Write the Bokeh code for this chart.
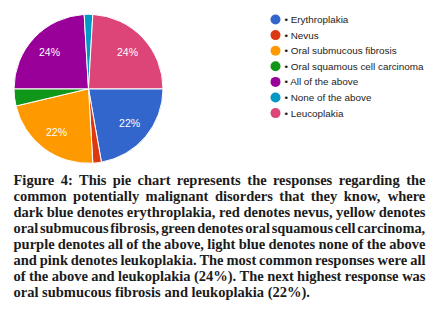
import math
from bokeh.plotting import figure
from bokeh.models import Range1d, ColumnDataSource
from bokeh.embed import file_html
from bokeh.resources import INLINE
from bokeh.core.properties import value

# ---------------- data ----------------
categories = ["Erythroplakia", "Nevus", "Oral submucous fibrosis",
              "Oral squamous cell carcinoma", "All of the above",
              "None of the above", "Leucoplakia"]
counts = [12, 1, 12, 2, 13, 1, 13]
colors = ["#3366cc", "#dc3912", "#ff9900", "#109618", "#990099", "#0099c6", "#dd4477"]

caption_lines = [
    "Figure 4: This pie chart represents the responses regarding the",
    "common potentially malignant disorders that they know, where",
    "dark blue denotes erythroplakia, red denotes nevus, yellow denotes",
    "oral submucous fibrosis, green denotes oral squamous cell carcinoma,",
    "purple denotes all of the above, light blue denotes none of the above",
    "and pink denotes leukoplakia. The most common responses were all",
    "of the above and leukoplakia (24%). The next highest response was",
    "oral submucous fibrosis and leukoplakia (22%).",
]

# ---------------- layout (image pixel coordinates) ----------------
IMG_H = 309
def Y(py):
    return IMG_H - py

p = figure(width=430, height=301, x_range=Range1d(0, 430), y_range=Range1d(8, 309),
           toolbar_location=None, output_backend="svg", min_border=0,
           x_axis_type=None, y_axis_type=None)
p.grid.visible = False
p.outline_line_color = None
p.background_fill_color = "white"
p.border_fill_color = "white"

# pie
cx, cy, r = 88.0, 88.3, 74.5
total = float(sum(counts))
starts, ends, lx, ly, ltxt = [], [], [], [], []
cum = 0.0
for c in counts:
    share = c / total
    a0 = -cum * 2 * math.pi
    a1 = -(cum + share) * 2 * math.pi
    starts.append(a0)
    ends.append(a1)
    m = -(cum + share / 2) * 2 * math.pi
    if share >= 0.10:
        lx.append(cx + 0.72 * r * math.cos(m))
        ly.append(Y(cy) + 0.72 * r * math.sin(m))
        ltxt.append(f"{round(share * 100)}%")
    cum += share

src = ColumnDataSource(dict(start=starts, end=ends, color=colors))
p.wedge(x=cx, y=Y(cy), radius=r, start_angle="start", end_angle="end",
        direction="clock", fill_color="color", line_color="white", line_width=1,
        source=src)
p.text(x=lx, y=ly, text=ltxt, text_color="white", text_font=value("Liberation Sans"),
       text_font_size="10.5px", text_align="center", text_baseline="middle")

# legend
leg_y = [Y(19 + 15.6 * i) for i in range(len(categories))]
p.scatter(x=[275] * len(categories), y=leg_y, marker="circle", size=10,
          fill_color=colors, line_color=None)
p.text(x=[284] * len(categories), y=leg_y, text=["\u2022 " + c for c in categories],
       text_color="#222222", text_font=value("Liberation Sans"), text_font_size="9.9px",
       text_align="left", text_baseline="middle")

# caption (justified, word by word, Times-Bold metrics)
TB = {' ': 250, '%': 1000, '(': 333, ')': 333, ',': 250, '.': 250, ':': 333,
      '0': 500, '1': 500, '2': 500, '3': 500, '4': 500, '5': 500, '6': 500, '7': 500,
      '8': 500, '9': 500, 'F': 611, 'T': 667,
      'a': 500, 'b': 556, 'c': 444, 'd': 556, 'e': 444, 'f': 333, 'g': 500, 'h': 556,
      'i': 278, 'j': 333, 'k': 556, 'l': 278, 'm': 833, 'n': 556, 'o': 500, 'p': 556,
      'q': 556, 'r': 444, 's': 389, 't': 333, 'u': 556, 'v': 500, 'w': 722, 'x': 500,
      'y': 500, 'z': 444}

def em(s):
    return sum(TB.get(ch, 500) for ch in s) / 1000.0

left, right = 13.0, 425.0
cxs, cys, cts, cfs = [], [], [], []
for k, line in enumerate(caption_lines):
    words = line.split(" ")
    fs = 14.5
    base = 179 + 16.05 * k
    nat_em = sum(em(w) for w in words)
    if k == len(caption_lines) - 1:
        gap = 0.25 * fs
    else:
        gap = (right - left - nat_em * fs) / (len(words) - 1)
        if gap < 0.12 * fs:
            fs = (right - left) / (nat_em + 0.12 * (len(words) - 1))
            gap = 0.12 * fs
    x = left
    for w in words:
        cxs.append(x)
        cys.append(Y(base))
        cts.append(w)
        cfs.append(f"{fs:.2f}px")
        x += em(w) * fs + gap

csrc = ColumnDataSource(dict(x=cxs, y=cys, t=cts, fs=cfs))
p.text(x="x", y="y", text="t", text_font_size="fs", source=csrc,
       text_color="#1b1b1b", text_font=value("Liberation Serif"),
       text_font_style="bold", text_align="left", text_baseline="alphabetic")

open("out.html", "w").write(file_html(p, INLINE))
